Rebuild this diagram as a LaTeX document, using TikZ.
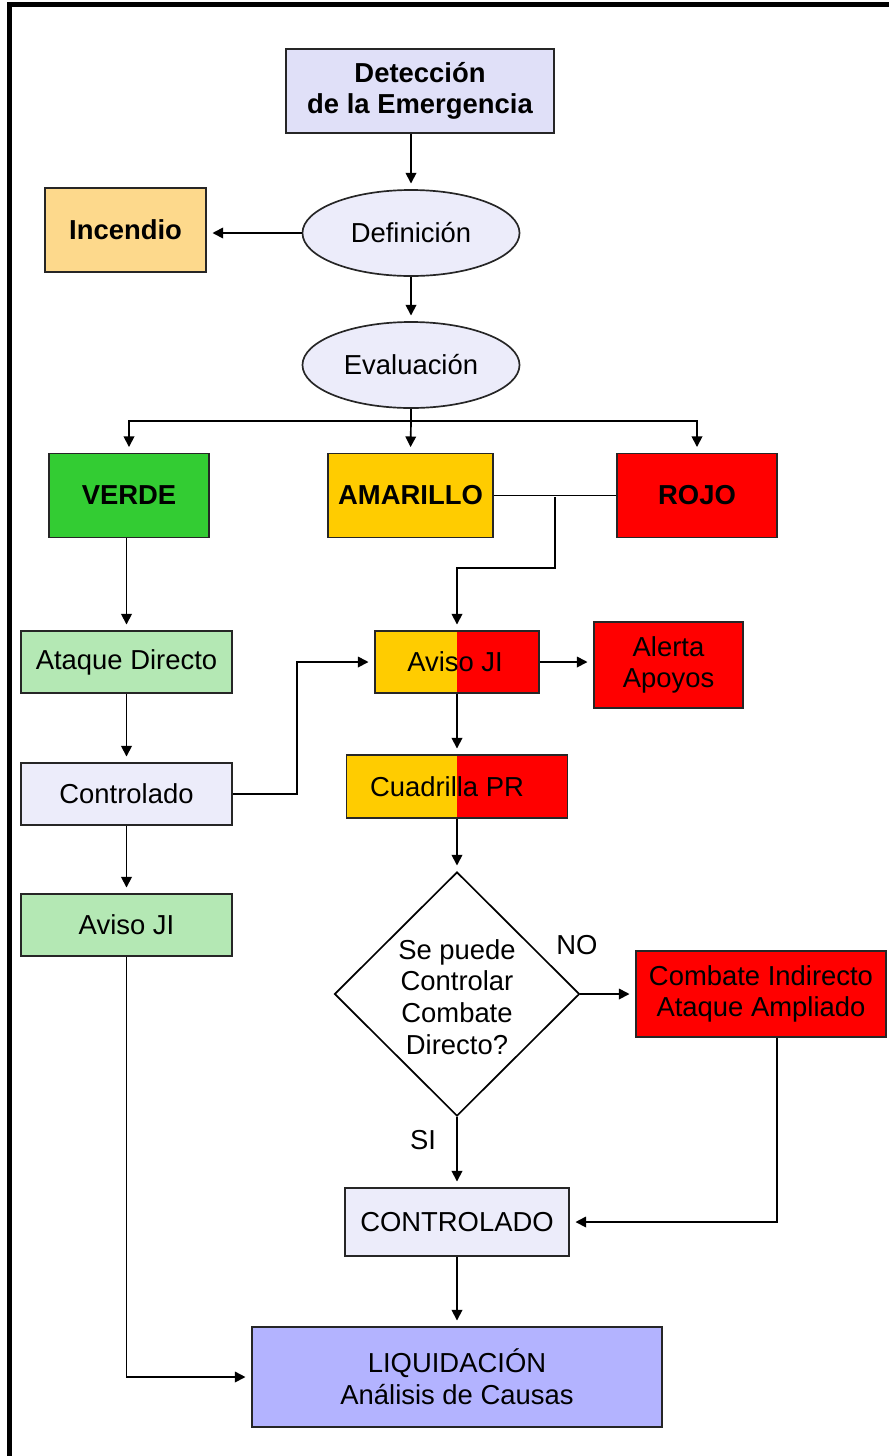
\documentclass[tikz,border=0pt]{standalone}
\usepackage{fontspec}
\setmainfont{Liberation Sans}
\usetikzlibrary{shapes.geometric}
\usetikzlibrary{arrows.meta}

\definecolor{lavanda}{HTML}{E0E0F8}
\definecolor{nube}{HTML}{ECECFA}
\definecolor{naranja}{HTML}{FDD98C}
\definecolor{verde}{HTML}{33CC33}
\definecolor{verdeclaro}{HTML}{B4E8B4}
\definecolor{amarillo}{HTML}{FFCC00}
\definecolor{rojo}{HTML}{FF0000}
\definecolor{azul}{HTML}{B3B3FF}

\begin{document}
\begin{tikzpicture}[
            x=0.025cm, y=-0.025cm,
            font=\fontsize{19.5}{22.5}\selectfont,
            box/.style={rectangle,draw=black!85,line width=1.2pt,align=center,inner sep=0pt},
            elip/.style={ellipse,draw=black!85,line width=1.2pt,fill=nube,inner sep=0pt,
                         minimum width=5.425cm,minimum height=2.15cm},
            half/.style={box,fill=amarillo,path picture={
                         \fill[rojo] (path picture bounding box.north) rectangle (path picture bounding box.south east);}},
            arr/.style={-{Triangle[length=7.5pt,width=7.5pt]},line width=1.2pt,shorten >=4pt},
            line/.style={line width=1.2pt},
            ]
            \useasboundingbox (0,0) rectangle (889,1456);
            \draw[line width=3pt] (9.5,1456) -- (9.5,4.5) -- (889,4.5);

            \node[box, fill=lavanda, minimum width=6.7cm, minimum height=2.1cm] (det) at (420,91) {\bfseries Detección\\\bfseries de la Emergencia};
            \node[elip] (def) at (411,233) {Definición};
            \node[box, fill=naranja, minimum width=4.025cm, minimum height=2.1cm] (inc) at (125.5,230) {\bfseries Incendio};
            \node[elip] (eval) at (411,365) {Evaluación};
            \coordinate (br) at (411,421);

            \node[box, fill=verde, minimum width=4cm, minimum height=2.1cm] (verde) at (129,495.5) {\bfseries VERDE};
            \node[box, fill=amarillo, minimum width=4.125cm, minimum height=2.1cm] (amar) at (410.5,495.5) {\bfseries AMARILLO};
            \node[box, fill=rojo, minimum width=4cm, minimum height=2.1cm] (rojo) at (697,495.5) {\bfseries ROJO};
            \coordinate (jn) at (555,497);

            \node[box, fill=verdeclaro, minimum width=5.275cm, minimum height=1.55cm] (ataque) at (126.5,662) {Ataque Directo};
            \node[box, fill=nube, minimum width=5.275cm, minimum height=1.55cm] (contr) at (126.5,794) {Controlado};
            \node[box, fill=verdeclaro, minimum width=5.275cm, minimum height=1.55cm] (avisoV) at (126.5,925) {Aviso JI};

            \node[half, minimum width=4.1cm, minimum height=1.55cm] (avisoR) at (457,662) {\hspace*{-0.1cm}Aviso JI};
            \node[box, fill=rojo, minimum width=3.725cm, minimum height=2.15cm] (alerta) at (668.5,665) {Alerta\\Apoyos};
            \node[half, minimum width=5.525cm, minimum height=1.575cm] (cuad) at (457,786.5) {\hspace*{-0.5cm}Cuadrilla PR};

            \node[diamond, draw=black, line width=1.2pt, fill=white, inner sep=0pt, aspect=1,
                  minimum width=6.125cm, minimum height=6.1cm] (preg) at (457,994) {};
            \node[align=center] (pregtxt) at (457,997) {Se puede\\Controlar\\Combate\\Directo?};
            \node (no) at (577,945) {NO};
            \node (si) at (423,1140) {SI};

            \node[box, fill=rojo, minimum width=6.25cm, minimum height=2.15cm] (comb) at (761,994) {Combate Indirecto\\Ataque Ampliado};
            \node[box, fill=nube, minimum width=5.6cm, minimum height=1.7cm] (ctrl2) at (457,1222) {CONTROLADO};
            \node[box, fill=azul, minimum width=10.25cm, minimum height=2.5cm] (liq) at (457,1377) {LIQUIDACIÓN\\Análisis de Causas};

            % flujo principal
            \draw[arr] (det.south -| def) -- (def.north);
            \draw[arr] (def.west) -- (def.west -| inc.east);
            \draw[arr] (def.south) -- (eval.north);
            \draw[line] (eval.south) -- (br);
            \draw[arr] (br) -| (verde.north);
            \draw[arr] (br) -- (amar.north);
            \draw[arr] (br) -| (rojo.north);

            % rama verde
            \draw[arr] (verde.south -| ataque) -- (ataque.north);
            \draw[arr] (ataque.south) -- (contr.north);
            \draw[arr] (contr.south) -- (avisoV.north);
            \draw[arr] (contr.east) -- ++(64,0) |- (avisoR.west);
            \draw[arr] (avisoV.south) |- (liq.west);

            % rama amarilla / roja
            \draw[line] (amar.east) -- (rojo.west);
            \draw[arr] (jn) -- ++(0,71) -| (avisoR.north);
            \draw[arr] (avisoR.east) -- (avisoR.east -| alerta.west);
            \draw[arr] (avisoR.south) -- (cuad.north);
            \draw[arr] (cuad.south) -- (preg.north);
            \draw[arr] (preg.east) -- (comb.west);
            \draw[arr] (preg.south) -- (ctrl2.north);
            \draw[arr] ([xshift=0.4cm]comb.south) |- (ctrl2.east);
            \draw[arr] (ctrl2.south) -- (liq.north);
        \end{tikzpicture}
\end{document}
